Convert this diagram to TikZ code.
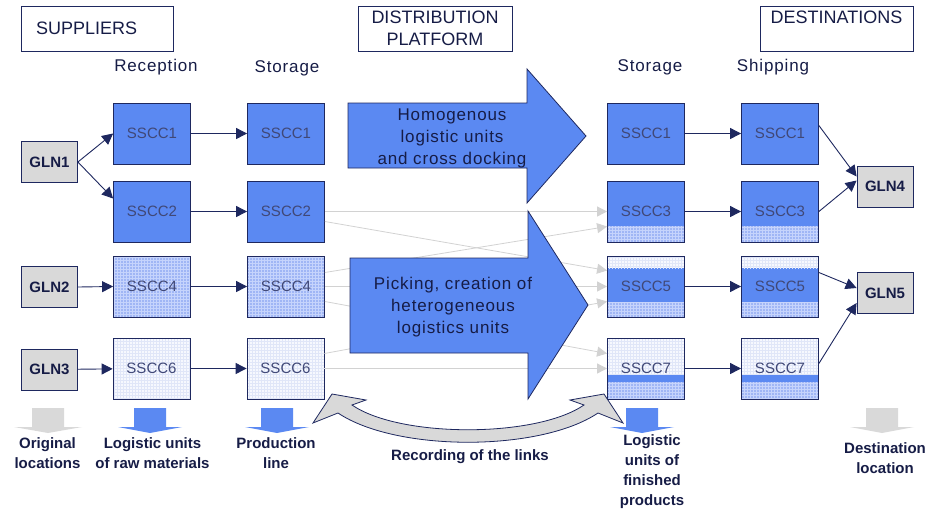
\documentclass[tikz,border=0pt]{standalone}
\usepackage{fontspec}
\setmainfont{Liberation Sans}
\usetikzlibrary{arrows.meta,patterns}

\definecolor{navy}{RGB}{30,40,95}
\definecolor{inkblue}{RGB}{22,28,70}
\definecolor{unitblue}{RGB}{91,137,242}
\definecolor{mixblue}{RGB}{160,182,245}
\definecolor{mixgrid}{RGB}{198,212,252}
\definecolor{palebg}{RGB}{246,248,254}
\definecolor{palegrid}{RGB}{224,230,248}
\definecolor{glngray}{RGB}{217,217,217}
\definecolor{linkgray}{RGB}{210,210,210}

\begin{document}
\begin{tikzpicture}[x=1pt, y=-1pt,
    unit/.style={rectangle, draw=navy, line width=0.8pt, minimum width=77pt, minimum height=61pt, inner sep=0pt, font=\fontsize{15}{18}\selectfont, text=navy!85},
    full/.style={unit, fill=unitblue},
    mixed/.style={unit, preaction={fill=mixblue}, pattern=grid, pattern color=mixgrid},
    pale/.style={unit, preaction={fill=palebg}, pattern=grid, pattern color=palegrid},
    band/.style={preaction={fill=mixblue}, pattern=grid, pattern color=mixgrid},
    paleband/.style={preaction={fill=palebg}, pattern=grid, pattern color=palegrid},
    footband/.style={path picture={\path[band] (path picture bounding box.south west) rectangle ([yshift=16pt]path picture bounding box.south east);}},
    splitband/.style={path picture={
        \path[paleband] (path picture bounding box.north west) rectangle ([yshift=-12pt]path picture bounding box.north east);
        \path[band] (path picture bounding box.south west) rectangle ([yshift=15pt]path picture bounding box.south east);}},
    stripeband/.style={path picture={
        \fill[unitblue] ([yshift=17pt]path picture bounding box.south west) rectangle ([yshift=24pt]path picture bounding box.south east);
        \path[band] (path picture bounding box.south west) rectangle ([yshift=17pt]path picture bounding box.south east);}},
    gln/.style={rectangle, draw=navy, line width=0.8pt, fill=glngray, minimum width=56pt, minimum height=41pt, font=\bfseries\fontsize{15}{18}\selectfont, text=inkblue},
    header/.style={rectangle, draw=navy, line width=0.8pt, minimum height=45pt, inner sep=0pt, align=center, font=\fontsize{18}{22}\selectfont, text=inkblue},
    column/.style={font=\fontsize{17}{20}\selectfont\addfontfeature{LetterSpace=5}, text=inkblue},
    bigarrow/.style={draw=navy, line width=0.8pt, fill=unitblue},
    bigtext/.style={align=center, font=\fontsize{17}{22}\selectfont\addfontfeature{LetterSpace=5}, text=inkblue},
    caption/.style={align=center, font=\bfseries\fontsize{15}{20}\selectfont, text=inkblue},
    arrow/.style={->, >={Triangle[length=11pt, width=11pt]}, navy, line width=0.9pt},
    link/.style={->, >={Triangle[length=10pt, width=10pt]}, linkgray, line width=0.8pt}
]
    \useasboundingbox (0,0) rectangle (930,512);

    % headers
    \node[header, text width=122pt, inner xsep=15pt, align=left] (suppliers) at (97,28.5) {SUPPLIERS};
    \node[header, minimum width=154pt] (platform) at (435,28.5) {DISTRIBUTION\\PLATFORM};
    \node[header, minimum width=153pt] (destinations) at (836.5,28.5) {DESTINATIONS\\ \mbox{}};

    \node[column] (reception) at (156,67) {Reception};
    \node[column] (storagein) at (287,68) {Storage};
    \node[column] (storageout) at (650,67) {Storage};
    \node[column] (shipping) at (773,67) {Shipping};

    % suppliers and their units
    \node[gln] (gln1) at (49.5,162) {GLN1};
    \node[gln] (gln2) at (49.5,287) {GLN2};
    \node[gln] (gln3) at (49.5,369.5) {GLN3};

    \node[full] (rec1) at (152,133.5) {SSCC1};
    \node[full] (sto1) at (286,133.5) {SSCC1};
    \node[full] (rec2) at (152,211.5) {SSCC2};
    \node[full] (sto2) at (286,211.5) {SSCC2};
    \node[mixed] (rec4) at (152,286.5) {SSCC4};
    \node[mixed] (sto4) at (286,286.5) {SSCC4};
    \node[pale] (rec6) at (151.5,368.5) {SSCC6};
    \node[pale] (sto6) at (285.5,368.5) {SSCC6};

    % destination side
    \node[full] (out1) at (646,133.5) {SSCC1};
    \node[full] (ship1) at (780,133.5) {SSCC1};
    \node[full, footband] (out3) at (646,211.5) {SSCC3};
    \node[full, footband] (ship3) at (780,211.5) {SSCC3};
    \node[full, splitband] (out5) at (646,286.5) {SSCC5};
    \node[full, splitband] (ship5) at (780,286.5) {SSCC5};
    \node[pale, stripeband] (out7) at (646,368.5) {SSCC7};
    \node[pale, stripeband] (ship7) at (780,368.5) {SSCC7};

    \node[gln] (gln4) at (885,186.5) {GLN4};
    \node[gln] (gln5) at (885,293) {GLN5};

    \draw[arrow] (gln1.east) -- (rec1.west);
    \draw[arrow] (gln1.east) -- ([yshift=13pt]rec2.west);
    \draw[arrow] (gln2.east) -- (rec4.west);
    \draw[arrow] (gln3) -- (rec6);
    \draw[arrow] (rec1) -- (sto1);
    \draw[arrow] (rec2) -- (sto2);
    \draw[arrow] (rec4) -- (sto4);
    \draw[arrow] (rec6) -- (sto6);

    \draw[arrow] (out1) -- (ship1);
    \draw[arrow] (out3) -- (ship3);
    \draw[arrow] (out5) -- (ship5);
    \draw[arrow] (out7) -- (ship7);
    \draw[arrow] ([yshift=8pt]ship1.east) -- ([yshift=10pt]gln4.west);
    \draw[arrow] (ship3.east) -- ([yshift=6pt]gln4.west);
    \draw[arrow] ([yshift=14pt]ship5.east) -- ([yshift=5pt]gln5.west);
    \draw[arrow] ([yshift=5pt]ship7.east) -- ([yshift=-10pt]gln5.west);

    % links through the platform
    \draw[link] (sto2) -- (out3);
    \draw[link] ([yshift=-10pt]sto2.east) -- ([yshift=16pt]out5.west);
    \draw[link] ([yshift=14pt]sto4.east) -- ([yshift=-15pt]out3.west);
    \draw[link] (sto4) -- (out5);
    \draw[link] ([yshift=-15pt]sto4.east) -- ([yshift=15pt]out7.west);
    \draw[link] ([yshift=15pt]sto6.east) -- ([yshift=-15pt]out5.west);
    \draw[link] (sto6) -- (out7);

    \draw[bigarrow] (348,103) -- (527,103) -- (527,69) -- (586,136) -- (527,203) -- (527,168) -- (348,168) -- cycle;
    \node[bigtext] (crossdock) at (452,138) {Homogenous\\logistic units\\and cross docking};
    \draw[bigarrow] (350,258) -- (528,258) -- (528,211) -- (588,305) -- (528,399) -- (528,353) -- (350,353) -- cycle;
    \node[bigtext] (picking) at (453,307) {Picking, creation of\\heterogeneous\\logistics units};

    % recording of the links
    \draw[navy, line width=0.8pt, fill=glngray] (313,423) -- (332,394) -- (366,400) -- (352,405)
        .. controls (400,438) and (536,438) .. (584,405) -- (570,400) -- (604,394) -- (623,423) -- (598,413)
        .. controls (540,452) and (396,452) .. (338,413) -- cycle;

    % down arrows
    \fill[glngray, shift={(48,0)}] (-16,408) -- (16,408) -- (16,427) -- (34,427) -- (0,433) -- (-34,427) -- (-16,427) -- cycle;
    \fill[unitblue, shift={(150,0)}] (-16,408) -- (16,408) -- (16,427) -- (32,427) -- (0,433) -- (-32,427) -- (-16,427) -- cycle;
    \fill[unitblue, shift={(277,0)}] (-16,408) -- (16,408) -- (16,427) -- (32,427) -- (0,433) -- (-32,427) -- (-16,427) -- cycle;
    \fill[unitblue, shift={(642,0)}] (-16,408) -- (16,408) -- (16,427) -- (32,427) -- (0,433) -- (-32,427) -- (-16,427) -- cycle;
    \fill[glngray, shift={(882,0)}] (-16,408) -- (16,408) -- (16,427) -- (32,427) -- (0,433) -- (-32,427) -- (-16,427) -- cycle;

    \node[caption] (origin) at (47.5,453) {Original\\locations};
    \node[caption] (rawunits) at (152.5,453) {Logistic units\\of raw materials};
    \node[caption] (prodline) at (276,453) {Production\\line};
    \node[caption] (recording) at (470,457) {Recording of the links};
    \node[caption] (finished) at (652,472) {Logistic\\units of\\finished\\products};
    \node[caption] (destloc) at (885,458) {Destination\\location};
\end{tikzpicture}
\end{document}
